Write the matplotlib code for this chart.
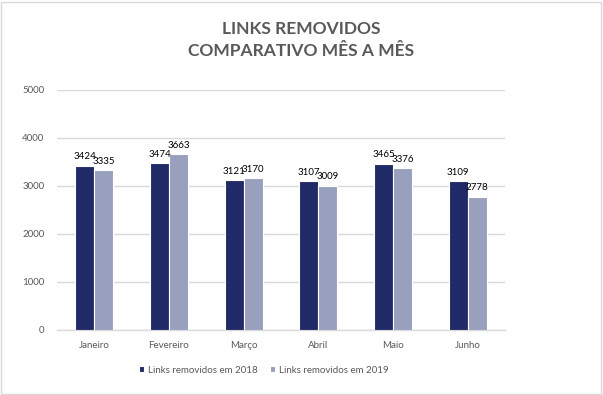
import numpy as np
import matplotlib.pyplot as plt
from matplotlib.patches import Rectangle

# =========================
# Data
# =========================
months = ["Janeiro", "Fevereiro", "Março", "Abril", "Maio", "Junho"]
links_2018 = [3424, 3474, 3121, 3107, 3465, 3109]
links_2019 = [3335, 3663, 3170, 3009, 3376, 2778]
y_ticks = [0, 1000, 2000, 3000, 4000, 5000]

plt.rcParams["font.family"] = ["Lato", "DejaVu Sans"]

dark = "#1F2A66"
light = "#98A0BE"
gray_text = "#595959"

fig = plt.figure(figsize=(6.03, 3.95), dpi=100)
ax = fig.add_axes([0.0945, 0.1646, 0.743, 0.6076])

x = np.arange(len(months))
w = 0.255

b1 = ax.bar(x - w / 2, links_2018, width=w, color=dark, edgecolor="white",
            linewidth=0.8, label="Links removidos em 2018", zorder=3)
b2 = ax.bar(x + w / 2, links_2019, width=w, color=light, edgecolor="white",
            linewidth=0.8, label="Links removidos em 2019", zorder=3)

for bars in (b1, b2):
    ax.bar_label(bars, padding=3, fontsize=7, color="black")

ax.set_xlim(-0.5, len(months) - 0.5)
ax.set_ylim(0, 5000)
ax.set_yticks(y_ticks)
ax.set_xticks(x)
ax.set_xticklabels(months)
ax.tick_params(axis="both", length=0, labelsize=7, colors=gray_text)
ax.tick_params(axis="x", pad=8)
ax.tick_params(axis="y", pad=9)

ax.grid(axis="y", color="#D9D9D9", linewidth=1, zorder=0)
for s in ["top", "right", "left"]:
    ax.spines[s].set_visible(False)
ax.spines["bottom"].set_color("#D9D9D9")
ax.spines["bottom"].set_linewidth(1)

fig.text(0.5, 0.898, "LINKS REMOVIDOS\nCOMPARATIVO MÊS A MÊS", ha="center",
         va="center", fontsize=12.5, fontweight="bold", color=gray_text,
         linespacing=1.45)

leg = fig.legend(loc="center", bbox_to_anchor=(0.437, 0.063), ncol=2,
                 frameon=False, fontsize=7, handlelength=0.5, handleheight=0.5,
                 handletextpad=0.4, columnspacing=1.3)
for t in leg.get_texts():
    t.set_color(gray_text)

fig.patches.append(Rectangle((0.002, 0.003), 0.995, 0.993, transform=fig.transFigure,
                             fill=False, edgecolor="#D9D9D9", linewidth=1))

fig.savefig("out.png", dpi=100)
